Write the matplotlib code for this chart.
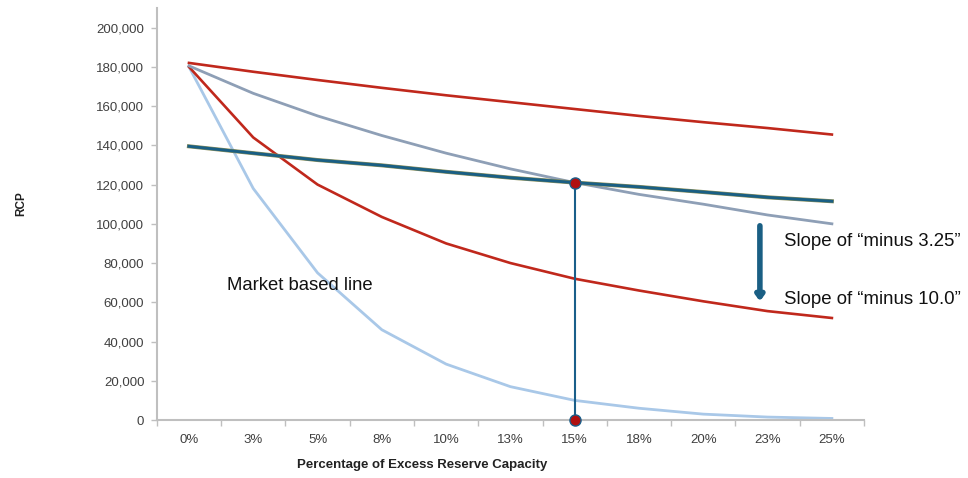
import matplotlib
matplotlib.use("Agg")
import matplotlib.pyplot as plt
import matplotlib.patheffects as pe
from matplotlib.ticker import FuncFormatter, FixedLocator
import numpy as np

plt.rcParams["font.family"] = ["Liberation Sans", "DejaVu Sans"]

# Excess reserve capacity categories
categories = ["0%", "3%", "5%", "8%", "10%", "13%", "15%", "18%", "20%", "23%", "25%"]

# RCP curves
upper_red = [182000, 177500, 173300, 169300, 165500, 162000, 158500, 155000, 151800, 148800, 145500]
gray_curve = [180500, 166500, 155000, 145000, 136000, 128000, 121000, 115000, 110000, 104500, 100000]
teal_curve = [139500, 136000, 132500, 129800, 126500, 123500, 121000, 118800, 116200, 113500, 111500]
slope_red = [180000, 144000, 120000, 103500, 90000, 80000, 72000, 66000, 60500, 55500, 52000]
market_line = [180000, 118000, 75000, 46000, 28500, 17000, 10000, 6000, 3000, 1500, 800]

# Marked intersection point
marker_idx = 6
marker_value = 121000

# Arrow between slope annotations
arrow_x = 8.88
arrow_top = 99000
arrow_bottom = 60500

fig = plt.figure(figsize=(9.68, 4.78), dpi=100)
ax = fig.add_axes([0.162, 0.1213, 0.7306, 0.862])

x = np.arange(len(categories))

ax.plot(x, market_line, color="#A9C8E8", lw=2.0, solid_joinstyle="round", zorder=2)
ax.plot(x, slope_red, color="#C0281C", lw=1.9, zorder=3)
ax.plot(x, gray_curve, color="#8E9FB6", lw=2.0, zorder=3)
ax.plot(x, teal_curve, color="#1A5F84", lw=2.1, zorder=4,
        path_effects=[pe.Stroke(linewidth=2.9, foreground="#8C8F5A"), pe.Normal()])
ax.plot(x, upper_red, color="#C0281C", lw=1.9, zorder=3)

# Vertical drop line with end markers
ax.plot([x[marker_idx], x[marker_idx]], [0, marker_value], color="#1A5F8A", lw=1.5, zorder=5,
        clip_on=False)
ax.plot([x[marker_idx], x[marker_idx]], [0, marker_value], linestyle="none", marker="o",
        ms=8, mfc="#B01010", mec="#1A5F8A", mew=1.0, zorder=6, clip_on=False)

ax.annotate("", xy=(arrow_x, arrow_bottom), xytext=(arrow_x, arrow_top),
            arrowprops=dict(arrowstyle="-|>,head_length=0.3,head_width=0.22",
                            color="#1A5F84", lw=4.0, shrinkA=0, shrinkB=0), zorder=6)

ax.text(9.26, 90800, "Slope of \u201cminus 3.25\u201d", fontsize=13.4, color="#111111",
        va="center", ha="left", clip_on=False)
ax.text(9.26, 61200, "Slope of \u201cminus 10.0\u201d", fontsize=13.4, color="#111111",
        va="center", ha="left", clip_on=False)
ax.text(0.59, 68400, "Market based line", fontsize=13.3, color="#111111",
        va="center", ha="left")

ax.set_xlim(-0.5, len(categories) - 0.5)
ax.set_ylim(0, 210000)

ax.xaxis.set_major_locator(FixedLocator(x))
ax.set_xticklabels(categories)
ax.xaxis.set_minor_locator(FixedLocator(np.arange(-0.5, len(categories), 1.0)))
ax.tick_params(axis="x", which="major", length=0, pad=10, labelsize=9.5, labelcolor="#404040")
ax.tick_params(axis="x", which="minor", length=4, width=1, color="#BFBFBF", direction="out")

ax.set_yticks(np.arange(0, 200001, 20000))
ax.yaxis.set_major_formatter(FuncFormatter(lambda v, p: f"{int(v):,}"))
ax.tick_params(axis="y", length=4, width=1, color="#BFBFBF", direction="out", pad=5,
               labelsize=9.5, labelcolor="#404040")

for side in ("top", "right"):
    ax.spines[side].set_visible(False)
for side in ("left", "bottom"):
    ax.spines[side].set_color("#BFBFBF")
    ax.spines[side].set_linewidth(1.5)

fig.text(0.0217, 0.573, "RCP", rotation=90, fontsize=8.5, fontweight="bold",
         color="#222222", ha="center", va="center")
fig.text(0.436, 0.027, "Percentage of Excess Reserve Capacity", fontsize=9.5,
         fontweight="bold", color="#222222", ha="center", va="center")

fig.savefig("out.png", dpi=100)
